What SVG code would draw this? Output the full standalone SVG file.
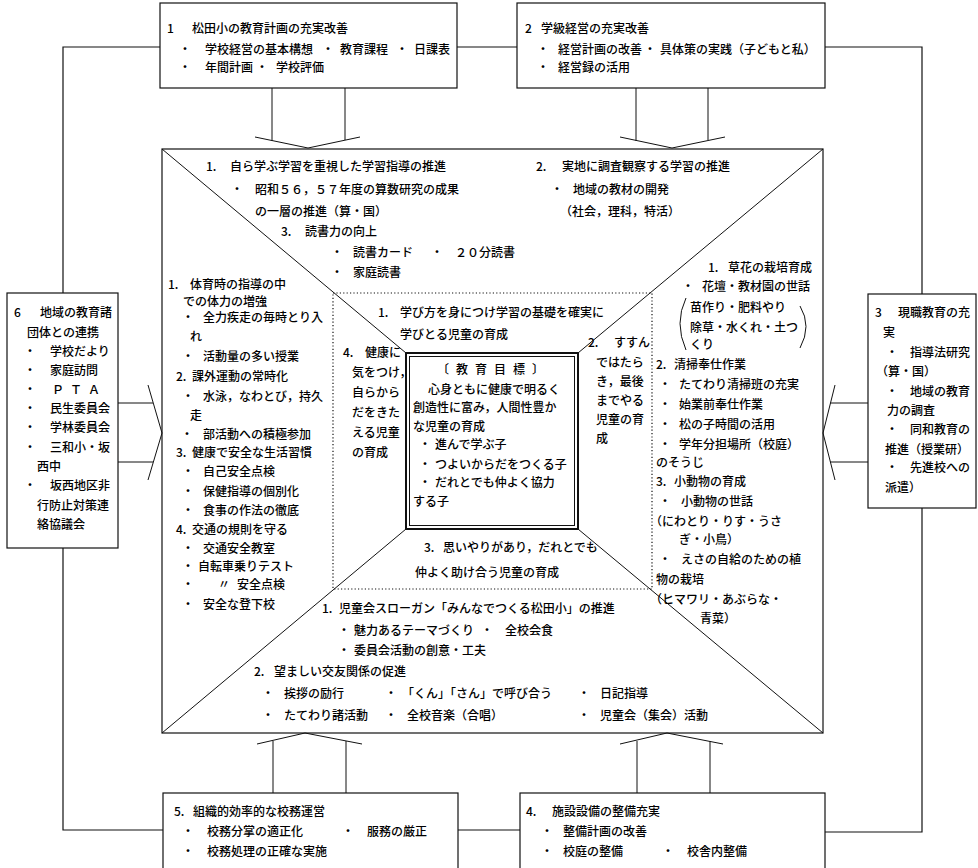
<svg xmlns="http://www.w3.org/2000/svg" width="978" height="868" viewBox="0 0 978 868">
<style>
text{font-family:"Noto Sans CJK JP","Noto Sans CJK SC",sans-serif;font-size:12px;font-weight:500;fill:#000;}
.ln{fill:none;stroke:#111;stroke-width:1.2;}
.th{fill:none;stroke:#111;stroke-width:1;}
.dot{fill:none;stroke:#111;stroke-width:1.2;stroke-dasharray:1.2 2.2;}
.box{fill:#fff;stroke:#111;stroke-width:1.2;}
</style>
<rect x="0" y="0" width="978" height="868" fill="#fff"/>
<g id="connectors">
<polyline class="ln" points="160,47 63,47 63,293"/>
<line class="ln" x1="457" y1="47" x2="517" y2="47"/>
<polyline class="ln" points="825,47 922,47 922,294"/>
<polyline class="ln" points="63,548 63,830 163,830"/>
<line class="ln" x1="458" y1="830" x2="520" y2="830"/>
<polyline class="ln" points="825,832 922,832 922,508"/>
<line class="th" x1="272" y1="88" x2="272" y2="141"/><line class="th" x1="345" y1="88" x2="345" y2="140"/>
<polyline class="th" points="255,137 308,148 360,137"/>
<line class="th" x1="636" y1="88" x2="636" y2="141"/><line class="th" x1="708" y1="88" x2="708" y2="140"/>
<polyline class="th" points="620,137 672,148 725,137"/>
<line class="th" x1="273" y1="793" x2="273" y2="741"/><line class="th" x1="346" y1="793" x2="346" y2="741"/>
<polyline class="th" points="257,744 305,733 362,744"/>
<line class="th" x1="637" y1="793" x2="637" y2="741"/><line class="th" x1="710" y1="793" x2="710" y2="741"/>
<polyline class="th" points="620,744 667,733 723,744"/>
<line class="th" x1="118" y1="403" x2="153" y2="403"/><line class="th" x1="118" y1="462" x2="153" y2="462"/>
<polyline class="th" points="148,385 162,433 148,480"/>
<line class="th" x1="868" y1="403" x2="830" y2="403"/><line class="th" x1="868" y1="462" x2="830" y2="462"/>
<polyline class="th" points="835,385 823,433 835,480"/>
</g>
<g id="center-frame">
<rect class="ln" x="162" y="149" width="661" height="584"/>
<line class="th" x1="162" y1="149" x2="406" y2="353"/>
<line class="th" x1="823" y1="149" x2="578" y2="353"/>
<line class="th" x1="162" y1="733" x2="406" y2="529"/>
<line class="th" x1="823" y1="733" x2="578" y2="529"/>
<rect class="dot" x="333" y="293" width="319" height="296"/>
<rect fill="#fff" stroke="#111" stroke-width="2" x="406" y="353" width="172" height="176"/>
<rect class="th" x="409.5" y="356.5" width="165" height="169"/>
</g>
<g id="box1">
<rect class="box" x="160" y="3" width="297" height="85"/>
<text x="167" y="33">1</text><text x="192" y="33">松田小の教育計画の充実改善</text>
<text y="54"><tspan x="179">・</tspan><tspan x="205">学校経営の基本構想</tspan><tspan x="322">・</tspan><tspan x="340">教育課程</tspan><tspan x="396">・</tspan><tspan x="414">日課表</tspan></text>
<text y="72"><tspan x="179">・</tspan><tspan x="205">年間計画</tspan><tspan x="256">・</tspan><tspan x="276">学校評価</tspan></text>
</g>
<g id="box2">
<rect class="box" x="517" y="3" width="308" height="85"/>
<text x="525" y="33">2</text><text x="541" y="33">学級経営の充実改善</text>
<text y="54"><tspan x="537">・</tspan><tspan x="558">経営計画の改善</tspan><tspan x="644">・</tspan><tspan x="660">具体策の実践（子どもと私）</tspan></text>
<text y="72"><tspan x="537">・</tspan><tspan x="558">経営録の活用</tspan></text>
</g>
<g id="box6">
<rect class="box" x="7" y="293" width="111" height="255"/>
<text x="14" y="317">6</text><text x="40" y="317">地域の教育諸</text>
<text x="27" y="337">団体との連携</text>
<text y="356"><tspan x="24">・</tspan><tspan x="50">学校だより</tspan></text>
<text y="375"><tspan x="24">・</tspan><tspan x="50">家庭訪問</tspan></text>
<text y="394"><tspan x="24">・</tspan><tspan x="52" letter-spacing="6">ＰＴＡ</tspan></text>
<text y="413"><tspan x="24">・</tspan><tspan x="50">民生委員会</tspan></text>
<text y="432"><tspan x="24">・</tspan><tspan x="50">学林委員会</tspan></text>
<text y="452"><tspan x="24">・</tspan><tspan x="50">三和小・坂</tspan></text>
<text x="37" y="471">西中</text>
<text y="490"><tspan x="24">・</tspan><tspan x="50">坂西地区非</tspan></text>
<text x="37" y="510">行防止対策連</text>
<text x="37" y="529">絡協議会</text>
</g>
<g id="box3">
<rect class="box" x="868" y="294" width="108" height="214"/>
<text x="875" y="317">3</text><text x="898" y="317">現職教育の充</text>
<text x="883" y="337">実</text>
<text y="357"><tspan x="886">・</tspan><tspan x="910">指導法研究</tspan></text>
<text x="876" y="376">（算・国）</text>
<text y="396"><tspan x="886">・</tspan><tspan x="910">地域の教育</tspan></text>
<text x="887" y="415">力の調査</text>
<text y="434"><tspan x="886">・</tspan><tspan x="910">同和教育の</tspan></text>
<text x="885" y="454">推進（授業研）</text>
<text y="472"><tspan x="886">・</tspan><tspan x="910">先進校への</tspan></text>
<text x="885" y="492">派遣）</text>
</g>
<g id="top-area">
<text y="171"><tspan x="206">1.</tspan><tspan x="230">自ら学ぶ学習を重視した学習指導の推進</tspan></text>
<text y="194"><tspan x="231">・</tspan><tspan x="255">昭和５６，５７年度の算数研究の成果</tspan></text>
<text x="255" y="216">の一層の推進（算・国）</text>
<text y="236"><tspan x="281">3.</tspan><tspan x="305">読書力の向上</tspan></text>
<text y="257"><tspan x="331">・</tspan><tspan x="353">読書カード</tspan><tspan x="431">・</tspan><tspan x="455">２０分読書</tspan></text>
<text y="277"><tspan x="331">・</tspan><tspan x="353">家庭読書</tspan></text>
<text y="171"><tspan x="536">2.</tspan><tspan x="562">実地に調査観察する学習の推進</tspan></text>
<text y="194"><tspan x="551">・</tspan><tspan x="573">地域の教材の開発</tspan></text>
<text x="560" y="216">（社会，理科，特活）</text>
</g>
<g id="left-area">
<text y="289"><tspan x="168">1.</tspan><tspan x="190">体育時の指導の中</tspan></text>
<text x="183" y="306">での体力の増強</text>
<text y="322"><tspan x="182">・</tspan><tspan x="203">全力疾走の毎時とり入</tspan></text>
<text x="190" y="341">れ</text>
<text y="361"><tspan x="182">・</tspan><tspan x="203">活動量の多い授業</tspan></text>
<text y="381"><tspan x="176">2.</tspan><tspan x="192">課外運動の常時化</tspan></text>
<text y="401"><tspan x="182">・</tspan><tspan x="203">水泳，なわとび，持久</tspan></text>
<text x="190" y="420">走</text>
<text y="439"><tspan x="181">・</tspan><tspan x="203">部活動への積極参加</tspan></text>
<text y="457"><tspan x="176">3.</tspan><tspan x="192">健康で安全な生活習慣</tspan></text>
<text y="476"><tspan x="182">・</tspan><tspan x="203">自己安全点検</tspan></text>
<text y="496"><tspan x="182">・</tspan><tspan x="203">保健指導の個別化</tspan></text>
<text y="515"><tspan x="182">・</tspan><tspan x="203">食事の作法の徹底</tspan></text>
<text y="534"><tspan x="176">4.</tspan><tspan x="192">交通の規則を守る</tspan></text>
<text y="553"><tspan x="182">・</tspan><tspan x="203">交通安全教室</tspan></text>
<text y="571"><tspan x="182">・</tspan><tspan x="198">自転車乗りテスト</tspan></text>
<text y="589"><tspan x="182">・</tspan><tspan x="218">〃</tspan><tspan x="237">安全点検</tspan></text>
<text y="609"><tspan x="182">・</tspan><tspan x="203">安全な登下校</tspan></text>
</g>
<g id="right-area">
<text y="272"><tspan x="708">1.</tspan><tspan x="728">草花の栽培育成</tspan></text>
<text y="291"><tspan x="682">・</tspan><tspan x="702">花壇・教材園の世話</tspan></text>
<path class="th" d="M686,298 Q674,323 686,350"/>
<path class="th" d="M800,306 Q812,326 800,348"/>
<text x="690" y="312">苗作り・肥料やり</text>
<text x="690" y="332">除草・水くれ・土つ</text>
<text x="690" y="349">くり</text>
<text y="369"><tspan x="656">2.</tspan><tspan x="674">清掃奉仕作業</tspan></text>
<text y="389"><tspan x="659">・</tspan><tspan x="679">たてわり清掃班の充実</tspan></text>
<text y="409"><tspan x="659">・</tspan><tspan x="679">始業前奉仕作業</tspan></text>
<text y="429"><tspan x="659">・</tspan><tspan x="679">松の子時間の活用</tspan></text>
<text y="449"><tspan x="659">・</tspan><tspan x="679">学年分担場所（校庭）</tspan></text>
<text x="656" y="467">のそうじ</text>
<text y="486"><tspan x="656">3.</tspan><tspan x="674">小動物の育成</tspan></text>
<text y="506"><tspan x="659">・</tspan><tspan x="681">小動物の世話</tspan></text>
<text x="650" y="526">（にわとり・りす・うさ</text>
<text x="679" y="544">ぎ・小鳥）</text>
<text y="564"><tspan x="659">・</tspan><tspan x="681">えさの自給のための植</tspan></text>
<text x="656" y="584">物の栽培</text>
<text x="650" y="604">（ヒマワリ・あぶらな・</text>
<text x="700" y="623">青菜）</text>
</g>
<g id="bottom-area">
<text y="613"><tspan x="322">1.</tspan><tspan x="339">児童会スローガン「みんなでつくる松田小」の推進</tspan></text>
<text y="635"><tspan x="338">・</tspan><tspan x="354">魅力あるテーマづくり</tspan><tspan x="481">・</tspan><tspan x="505">全校会食</tspan></text>
<text y="655"><tspan x="338">・</tspan><tspan x="354">委員会活動の創意・工夫</tspan></text>
<text y="676"><tspan x="254">2.</tspan><tspan x="274">望ましい交友関係の促進</tspan></text>
<text y="698"><tspan x="262">・</tspan><tspan x="284">挨拶の励行</tspan><tspan x="385">・</tspan><tspan x="402">「くん」「さん」で呼び合う</tspan><tspan x="578">・</tspan><tspan x="600">日記指導</tspan></text>
<text y="720"><tspan x="262">・</tspan><tspan x="284">たてわり諸活動</tspan><tspan x="385">・</tspan><tspan x="407">全校音楽（合唱）</tspan><tspan x="578">・</tspan><tspan x="600">児童会（集会）活動</tspan></text>
</g>
<g id="goal-top">
<text y="317"><tspan x="378">1.</tspan><tspan x="400">学び方を身につけ学習の基礎を確実に</tspan></text>
<text x="400" y="339">学びとる児童の育成</text>
</g>
<g id="goal-left">
<text y="357"><tspan x="343">4.</tspan><tspan x="365">健康に</tspan></text>
<text x="352" y="377">気をつけ，</text>
<text x="352" y="397">自らから</text>
<text x="352" y="417">だをきた</text>
<text x="352" y="437">える児童</text>
<text x="352" y="457">の育成</text>
</g>
<g id="goal-right">
<text y="347"><tspan x="588">2.</tspan><tspan x="614">すすん</tspan></text>
<text x="596" y="367">ではたら</text>
<text x="596" y="386">き，最後</text>
<text x="596" y="405">までやる</text>
<text x="596" y="424">児童の育</text>
<text x="596" y="443">成</text>
</g>
<g id="goal-bottom">
<text y="552"><tspan x="424">3.</tspan><tspan x="443">思いやりがあり，だれとでも</tspan></text>
<text x="415" y="577">仲よく助け合う児童の育成</text>
</g>
<g id="goal-center">
<text x="437" y="374" letter-spacing="7">〔教育目標〕</text>
<text x="428" y="394">心身ともに健康で明るく</text>
<text x="413" y="412">創造性に富み，人間性豊か</text>
<text x="413" y="431">な児童の育成</text>
<text y="449"><tspan x="419">・</tspan><tspan x="435">進んで学ぶ子</tspan></text>
<text y="469"><tspan x="419">・</tspan><tspan x="435">つよいからだをつくる子</tspan></text>
<text y="487"><tspan x="419">・</tspan><tspan x="435">だれとでも仲よく協力</tspan></text>
<text x="413" y="506">する子</text>
</g>
<g id="box5">
<rect class="box" x="163" y="793" width="295" height="80"/>
<text y="816"><tspan x="174">5.</tspan><tspan x="193">組織的効率的な校務運営</tspan></text>
<text y="836"><tspan x="182">・</tspan><tspan x="207">校務分掌の適正化</tspan><tspan x="342">・</tspan><tspan x="367">服務の厳正</tspan></text>
<text y="856"><tspan x="182">・</tspan><tspan x="207">校務処理の正確な実施</tspan></text>
</g>
<g id="box4">
<rect class="box" x="520" y="793" width="305" height="80"/>
<text y="816"><tspan x="526">4.</tspan><tspan x="552">施設設備の整備充実</tspan></text>
<text y="836"><tspan x="541">・</tspan><tspan x="563">整備計画の改善</tspan></text>
<text y="856"><tspan x="541">・</tspan><tspan x="563">校庭の整備</tspan><tspan x="662">・</tspan><tspan x="687">校舎内整備</tspan></text>
</g>
</svg>
